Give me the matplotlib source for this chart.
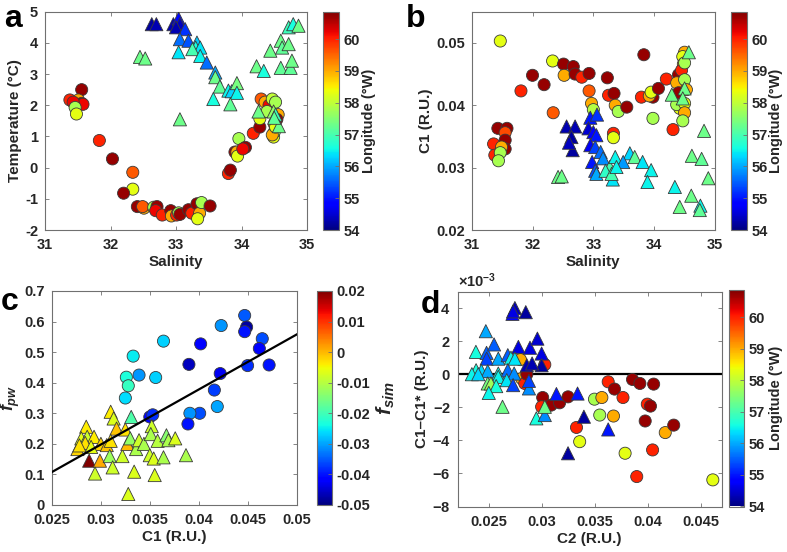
import numpy as np
import matplotlib
matplotlib.use("Agg")
import matplotlib.pyplot as plt
from matplotlib.ticker import ScalarFormatter

plt.rcParams['font.family'] = ['Liberation Sans', 'DejaVu Sans']
plt.rcParams['font.weight'] = 'bold'
plt.rcParams['axes.unicode_minus'] = False
plt.rcParams['mathtext.fontset'] = 'custom'
plt.rcParams['mathtext.it'] = 'Liberation Sans:italic'
plt.rcParams['mathtext.rm'] = 'Liberation Sans'
plt.rcParams['mathtext.bf'] = 'Liberation Sans:bold'
plt.rcParams['mathtext.bfit'] = 'Liberation Sans:italic:bold'

# ---------------- Panel a data ----------------
a_circ_sal = [31.38, 31.56, 31.51, 31.56, 31.58, 31.43, 31.46, 31.48, 31.83, 32.03, 32.34, 32.34, 32.20,
              32.41, 32.51, 32.49, 32.66, 32.71, 32.69, 32.79, 32.92, 32.93, 33.01, 33.04, 33.06, 33.19,
              33.24, 33.32, 33.36, 33.33, 33.39, 33.52, 33.80, 33.83, 33.90, 33.93, 33.94, 33.96, 34.06,
              34.02, 34.18, 34.28, 34.28, 34.30, 34.36, 34.42, 34.47, 34.52, 34.39, 34.56, 34.54, 34.50,
              34.49, 34.50, 34.47, 34.52]
a_circ_temp = [2.17, 2.50, 2.17, 2.06, 2.03, 2.10, 1.93, 1.72, 0.87, 0.28, -0.15, -0.69, -0.82,
               -1.25, -1.30, -1.25, -1.27, -1.25, -1.38, -1.52, -1.38, -1.55, -1.52, -1.45, -1.50, -1.35,
               -1.46, -1.16, -1.46, -1.64, -1.12, -1.23, -0.19, -0.08, 0.50, 0.50, 0.37, 0.93, 0.65,
               0.60, 1.10, 1.30, 1.57, 2.20, 2.10, 2.00, 2.20, 2.10, 1.80, 1.70, 1.55, 1.40,
               0.98, 1.14, 1.05, 1.30]
a_circ_lon = [60.0, 60.7, 59.0, 60.7, 60.2, 60.2, 57.8, 58.3, 60.0, 60.7, 59.6, 58.3, 60.7,
              60.7, 59.0, 59.6, 57.8, 60.7, 60.2, 60.0, 60.7, 59.0, 60.0, 57.8, 60.7, 60.7,
              60.0, 60.7, 59.0, 58.3, 57.8, 60.7, 60.0, 60.7, 60.7, 59.0, 58.3, 57.8, 60.7,
              60.2, 60.0, 60.7, 58.3, 59.6, 59.0, 60.2, 58.0, 57.8, 57.8, 59.0, 60.7, 59.0,
              58.3, 57.8, 59.0, 58.3]

a_tri_sal = [32.63, 32.70, 32.96, 33.04, 33.06, 33.00, 33.14, 33.06, 33.19, 33.04, 33.32, 33.30, 33.37,
             33.25, 33.37, 33.47, 33.60, 33.60, 33.67, 33.80, 33.85, 33.93, 33.93, 33.83, 33.57, 32.45,
             32.53, 33.06, 34.23, 34.34, 34.44, 34.60, 34.62, 34.72, 34.60, 34.75, 34.77, 34.72, 34.79,
             34.87, 34.26, 34.49, 34.52, 34.57, 34.50]
a_tri_temp = [4.60, 4.60, 4.60, 4.78, 4.60, 4.50, 4.44, 4.12, 4.07, 3.70, 4.01, 3.85, 3.85,
              3.80, 3.58, 3.37, 3.05, 2.90, 2.60, 2.47, 2.45, 2.71, 2.40, 2.03, 2.20, 3.55,
              3.50, 1.55, 3.25, 3.10, 3.75, 4.07, 3.85, 3.96, 3.20, 3.20, 3.43, 4.50, 4.60,
              4.55, 1.80, 1.80, 1.70, 1.33, 1.60]
a_tri_lon = [54.2, 54.3, 54.3, 54.9, 54.4, 54.3, 55.2, 55.6, 55.4, 56.4, 56.2, 56.6, 56.4,
             57.0, 56.5, 55.6, 56.0, 57.3, 57.2, 56.5, 56.3, 57.4, 56.5, 57.2, 56.6, 57.3,
             57.3, 57.3, 57.3, 56.6, 57.3, 57.3, 57.2, 57.3, 57.2, 57.2, 57.3, 56.9, 56.6,
             57.3, 57.3, 57.6, 56.9, 57.3, 57.2]

# ---------------- Panel b data ----------------
b_circ_sal = [31.47, 31.43, 31.58, 31.55, 31.36, 31.38, 31.55, 31.55, 31.49, 31.47, 31.44, 31.81, 32.00,
              32.19, 32.34, 32.33, 32.51, 32.67, 32.52, 32.70, 32.81, 32.93, 32.93, 32.97, 33.00, 33.23,
              33.25, 33.34, 33.36, 33.41, 33.55, 33.33, 33.33, 33.83, 33.79, 33.98, 33.92, 33.95, 34.07,
              33.98, 34.20, 34.31, 34.40, 34.37, 34.50, 34.47, 34.48, 34.45, 34.50, 34.50, 34.53, 34.42,
              34.37, 34.50, 34.50, 34.47, 34.40]
b_circ_c1 = [0.0503, 0.0363, 0.0363, 0.0356, 0.0338, 0.0320, 0.0344, 0.0330, 0.0333, 0.0324, 0.0311, 0.0423, 0.0448,
             0.0433, 0.0388, 0.0471, 0.0466, 0.0462, 0.0448, 0.0450, 0.0445, 0.0451, 0.0423, 0.0403, 0.0393, 0.0444,
             0.0416, 0.0419, 0.0400, 0.0390, 0.0397, 0.0355, 0.0348, 0.0481, 0.0413, 0.0413, 0.0415, 0.0421, 0.0427,
             0.0379, 0.0442, 0.0361, 0.0449, 0.0436, 0.0485, 0.0478, 0.0466, 0.0456, 0.0468, 0.0441, 0.0425, 0.0395,
             0.0401, 0.0403, 0.0388, 0.0375, 0.0420]
b_circ_lon = [58.3, 60.7, 60.7, 59.7, 60.0, 60.0, 60.7, 60.7, 59.0, 57.8, 57.8, 60.0, 60.7,
              60.7, 59.6, 58.3, 60.7, 60.7, 59.0, 60.7, 60.0, 60.7, 59.6, 59.0, 57.9, 60.7,
              60.0, 60.7, 59.0, 57.8, 60.7, 60.0, 58.3, 60.7, 60.0, 60.7, 59.0, 58.3, 60.7,
              57.8, 60.0, 60.0, 60.7, 59.0, 59.0, 58.3, 59.0, 60.0, 57.8, 57.8, 59.0, 58.3,
              57.8, 58.3, 59.0, 57.8, 60.7]

b_tri_sal = [32.56, 32.70, 32.64, 32.66, 32.60, 32.95, 33.06, 32.92, 33.00, 33.05, 32.95, 33.03, 32.98,
             33.12, 33.16, 33.03, 33.05, 33.27, 33.20, 33.36, 33.60, 33.68, 33.49, 33.32, 33.30, 33.38,
             33.81, 33.95, 33.89, 32.42, 32.48, 34.34, 34.42, 34.61, 34.76, 34.75, 34.82, 34.62, 34.78,
             34.89, 34.29, 34.50, 34.47, 34.57]
b_tri_c1 = [0.0366, 0.0366, 0.0349, 0.0328, 0.0340, 0.0380, 0.0385, 0.0363, 0.0357, 0.0352, 0.0336, 0.0333, 0.0309,
            0.0325, 0.0315, 0.0295, 0.0290, 0.0301, 0.0295, 0.0317, 0.0323, 0.0317, 0.0309, 0.0281, 0.0290, 0.0301,
            0.0309, 0.0296, 0.0277, 0.0285, 0.0286, 0.0269, 0.0237, 0.0255, 0.0239, 0.0232, 0.0359, 0.0319, 0.0314,
            0.0283, 0.0417, 0.0427, 0.0411, 0.0485]
b_tri_lon = [54.3, 54.3, 54.2, 54.2, 54.4, 55.0, 55.2, 54.5, 54.8, 55.0, 54.7, 55.3, 55.0,
             55.6, 55.8, 55.4, 56.0, 57.0, 56.8, 56.5, 56.3, 57.2, 55.9, 56.4, 57.0, 56.5,
             56.4, 56.5, 56.5, 57.3, 57.3, 56.5, 57.3, 57.3, 56.5, 57.2, 57.3, 57.3, 57.2,
             57.3, 57.3, 57.3, 57.3, 57.3]

# ---------------- Panel c data ----------------
c_circ_c1 = [0.0447, 0.0449, 0.0447, 0.0423, 0.0402, 0.0390, 0.0422, 0.0416, 0.0419, 0.0465, 0.0462, 0.0450,
             0.0472, 0.0401, 0.0391, 0.0389, 0.0350, 0.0353, 0.0364, 0.0333, 0.0339, 0.0356, 0.0326, 0.0328, 0.0325]
c_circ_fpw = [0.620, 0.582, 0.567, 0.587, 0.527, 0.460, 0.430, 0.376, 0.322, 0.544, 0.512, 0.456,
              0.458, 0.300, 0.300, 0.265, 0.288, 0.295, 0.536, 0.487, 0.425, 0.417, 0.418, 0.390, 0.350]
c_circ_fsim = [-0.035, -0.048, -0.040, -0.031, -0.042, -0.046, -0.043, -0.037, -0.030, -0.036, -0.041, -0.038,
               -0.040, -0.036, -0.031, -0.040, -0.041, -0.038, -0.027, -0.025, -0.031, -0.027, -0.023, -0.021, -0.026]

c_tri_c1 = [0.0285, 0.0276, 0.0280, 0.0286, 0.0293, 0.0288, 0.0299, 0.0294, 0.0300, 0.0306, 0.0310, 0.0313,
            0.0316, 0.0309, 0.0312, 0.0322, 0.0325, 0.0327, 0.0331, 0.0330, 0.0328, 0.0334, 0.0336, 0.0339,
            0.0344, 0.0352, 0.0351, 0.0350, 0.0354, 0.0355, 0.0358, 0.0367, 0.0369, 0.0376, 0.0364, 0.0387,
            0.0284, 0.0290, 0.0310, 0.0278]
c_tri_fpw = [0.256, 0.183, 0.218, 0.223, 0.223, 0.145, 0.145, 0.103, 0.200, 0.196, 0.305, 0.283,
             0.250, 0.160, 0.123, 0.160, 0.247, 0.200, 0.288, 0.218, 0.036, 0.109, 0.183, 0.212,
             0.200, 0.258, 0.232, 0.163, 0.152, 0.098, 0.210, 0.228, 0.212, 0.218, 0.156, 0.163,
             0.203, 0.190, 0.210, 0.195]
c_tri_fsim = [-0.004, -0.002, -0.006, -0.008, -0.004, 0.020, 0.001, -0.008, -0.002, -0.001, -0.004, -0.007,
              -0.001, -0.012, -0.008, -0.008, -0.003, 0.000, -0.019, -0.013, -0.007, -0.007, -0.011, -0.008,
              -0.011, -0.008, -0.011, -0.008, -0.007, -0.007, -0.010, -0.014, -0.011, -0.007, -0.011, -0.011,
              -0.003, -0.006, -0.003, -0.003]
c_fit_slope = 17.98
c_fit_intercept = -0.3415

# ---------------- Panel d data ----------------
d_tri_c2 = [0.02743, 0.02720, 0.02726, 0.02846, 0.02468, 0.02374, 0.02475, 0.02476, 0.02546, 0.02586,
            0.02676, 0.02706, 0.02776, 0.02886, 0.02956, 0.02996, 0.02996, 0.02856, 0.02906, 0.02743,
            0.02376, 0.02426, 0.02486, 0.02586, 0.02676, 0.02736, 0.02586, 0.02486, 0.02516, 0.02566,
            0.02496, 0.02626, 0.02666, 0.02726, 0.02876, 0.02876, 0.02946, 0.03026, 0.03026, 0.03136,
            0.03336, 0.03396, 0.03246, 0.03626, 0.02336, 0.02396]
d_tri_diff = np.array([4.0, 3.65, 3.8, 3.75, 2.6, 1.35, 1.29, 0.94, 1.8, 0.94,
                       1.15, 1.0, 1.65, 1.6, 2.15, 1.25, 0.54, 0.54, 0.65, 0.94,
                       0.24, 0.2, 0.18, 0.04, 0.24, 0.04, -0.16, -0.56, -0.56, -0.72,
                       -1.13, -1.97, -0.36, -0.66, -0.86, -0.4, -2.67, -2.47, -1.97, -1.2,
                       -1.17, -2.57, -4.78, -3.34, 0.0, 0.0]) * 1e-3
d_tri_lon = [54.3, 54.8, 54.6, 54.2, 56.0, 56.6, 55.5, 55.3, 55.5, 56.0,
             55.5, 56.5, 54.6, 54.6, 54.5, 54.6, 54.2, 54.3, 54.3, 56.4,
             56.6, 56.3, 56.0, 56.5, 55.6, 55.8, 56.5, 57.4, 57.7, 56.6,
             56.5, 57.3, 56.4, 55.3, 55.8, 55.3, 56.6, 55.8, 57.3, 55.0,
             55.0, 54.2, 54.2, 55.0, 56.5, 56.3]

d_circ_c2 = [0.02796, 0.03026, 0.02806, 0.02836, 0.02856, 0.03006, 0.02996, 0.03086, 0.03166, 0.03246,
             0.03326, 0.03356, 0.03496, 0.03566, 0.03546, 0.03676, 0.03626, 0.03686, 0.03766, 0.03786,
             0.03856, 0.03926, 0.04056, 0.03996, 0.04026, 0.03976, 0.04046, 0.03896, 0.04166, 0.04246, 0.04616]
d_circ_diff = np.array([0.88, 0.58, -0.26, -0.56, 0.0, -1.41, -1.97, -1.87, -1.73, -1.37,
                        -3.22, -4.08, -1.51, -1.41, -2.47, -2.53, -0.46, -0.90, -1.41, -4.78,
                        -0.32, -0.56, -0.60, -1.81, -1.93, -2.83, -4.58, -6.19, -3.53, -3.08, -6.39]) * 1e-3
d_circ_lon = [59.0, 60.0, 59.0, 60.0, 60.7, 60.7, 60.0, 60.7, 60.7, 60.7,
              60.0, 58.3, 57.8, 59.0, 57.8, 59.0, 60.0, 60.7, 60.0, 58.3,
              60.7, 60.7, 60.7, 60.0, 60.7, 60.7, 60.0, 60.0, 59.0, 60.7, 58.3]

lon_ticks = [54, 55, 56, 57, 58, 59, 60]
fsim_ticks = [-0.05, -0.04, -0.03, -0.02, -0.01, 0, 0.01, 0.02]
fsim_ticklabels = ['-0.05', '-0.04', '-0.03', '-0.02', '-0.01', '0', '0.01', '0.02']

# ---------------- Plot ----------------
W, H = 787, 552
fig = plt.figure(figsize=(W / 100, H / 100), dpi=100)

def rect(l, t, r, b):
    return [l / W, 1 - b / H, (r - l) / W, (b - t) / H]

TICKC = '#262626'
SPINEC = '#707070'
EDGE = '#3a3a3a'
S_C, S_T = 76, 90
LON_MIN, LON_MAX = 54, 60.86

def style(ax):
    for sp in ax.spines.values():
        sp.set_color(SPINEC)
        sp.set_linewidth(0.8)
    ax.tick_params(direction='in', length=3, width=0.6, color=SPINEC, labelsize=10.5,
                   labelcolor=TICKC, top=True, right=True)
    ax.tick_params(axis='x', pad=6)
    ax.tick_params(axis='y', pad=5)
    for lab in ax.get_xticklabels() + ax.get_yticklabels():
        lab.set_fontweight('bold')

def cbar(sc, cax, ticks, label, labels=None, lsize=10.5, lpad=2):
    cb = fig.colorbar(sc, cax=cax, ticks=ticks)
    if labels is not None:
        cb.ax.set_yticklabels(labels)
    cb.outline.set_edgecolor(SPINEC)
    cb.outline.set_linewidth(0.8)
    cb.ax.tick_params(direction='in', length=3, width=0.6, color=SPINEC, labelsize=10.5,
                      labelcolor=TICKC, pad=3)
    for lab in cb.ax.get_yticklabels():
        lab.set_fontweight('bold')
    cb.set_label(label, fontsize=lsize, fontweight='bold', color=TICKC, labelpad=lpad)
    return cb

# Panel a
ax = fig.add_axes(rect(45, 11.7, 307, 230))
ax.scatter(a_circ_sal, a_circ_temp, c=a_circ_lon, cmap='jet', vmin=LON_MIN, vmax=LON_MAX,
           s=S_C, marker='o', edgecolors=EDGE, linewidths=0.6, zorder=3)
sc = ax.scatter(a_tri_sal, a_tri_temp, c=a_tri_lon, cmap='jet', vmin=LON_MIN, vmax=LON_MAX,
                s=S_T, marker='^', edgecolors=EDGE, linewidths=0.6, zorder=3)
ax.set_xlim(31, 35)
ax.set_ylim(-2, 5)
ax.set_xticks([31, 32, 33, 34, 35])
ax.set_yticks(range(-2, 6))
ax.set_xlabel('Salinity', fontsize=11, fontweight='bold', color=TICKC, labelpad=2)
ax.set_ylabel('Temperature (°C)', fontsize=11, fontweight='bold', color=TICKC, labelpad=2)
style(ax)
cax = fig.add_axes(rect(323, 11.7, 339, 230))
cbar(sc, cax, lon_ticks, 'Longitude (°W)')

# Panel b
ax = fig.add_axes(rect(471.7, 11.7, 715, 230))
ax.scatter(b_circ_sal, b_circ_c1, c=b_circ_lon, cmap='jet', vmin=LON_MIN, vmax=LON_MAX,
           s=S_C, marker='o', edgecolors=EDGE, linewidths=0.6, zorder=3)
sc = ax.scatter(b_tri_sal, b_tri_c1, c=b_tri_lon, cmap='jet', vmin=LON_MIN, vmax=LON_MAX,
                s=S_T, marker='^', edgecolors=EDGE, linewidths=0.6, zorder=3)
ax.set_xlim(31, 35)
ax.set_ylim(0.02, 0.055)
ax.set_xticks([31, 32, 33, 34, 35])
ax.set_yticks([0.02, 0.03, 0.04, 0.05])
ax.set_yticklabels(['0.02', '0.03', '0.04', '0.05'])
ax.set_xlabel('Salinity', fontsize=11, fontweight='bold', color=TICKC, labelpad=2)
ax.set_ylabel('C1 (R.U.)', fontsize=11, fontweight='bold', color=TICKC, labelpad=2)
style(ax)
cax = fig.add_axes(rect(731, 11.7, 747, 230))
cbar(sc, cax, lon_ticks, 'Longitude (°W)', lpad=1)

# Panel c
ax = fig.add_axes(rect(52, 291, 296.5, 505))
ax.scatter(c_circ_c1, c_circ_fpw, c=c_circ_fsim, cmap='jet', vmin=-0.05, vmax=0.02,
           s=S_C, marker='o', edgecolors=EDGE, linewidths=0.6, zorder=3)
sc = ax.scatter(c_tri_c1, c_tri_fpw, c=c_tri_fsim, cmap='jet', vmin=-0.05, vmax=0.02,
                s=S_T, marker='^', edgecolors=EDGE, linewidths=0.6, zorder=3)
xl = np.array([0.025, 0.05])
ax.plot(xl, c_fit_intercept + c_fit_slope * xl, color='black', lw=1.6, zorder=4)
ax.set_xlim(0.025, 0.05)
ax.set_ylim(0, 0.7)
ax.set_xticks([0.025, 0.03, 0.035, 0.04, 0.045, 0.05])
ax.set_xticklabels(['0.025', '0.03', '0.035', '0.04', '0.045', '0.05'])
ax.set_yticks([0, 0.1, 0.2, 0.3, 0.4, 0.5, 0.6, 0.7])
ax.set_yticklabels(['0', '0.1', '0.2', '0.3', '0.4', '0.5', '0.6', '0.7'])
ax.set_xlabel('C1 (R.U.)', fontsize=11, fontweight='bold', color=TICKC, labelpad=2)
ax.set_ylabel(r'$\mathit{f}_{\mathit{pw}}$', fontsize=13, color=TICKC, labelpad=2)
style(ax)
cax = fig.add_axes(rect(317, 291, 332, 505))
cbar(sc, cax, fsim_ticks, r'$\mathbfit{f}_{\mathbfit{sim}}$', labels=fsim_ticklabels, lsize=15, lpad=3)

# Panel d
ax = fig.add_axes(rect(457.5, 291.5, 721.7, 506.5))
ax.axhline(0, color='black', lw=1.6, zorder=2)
ax.scatter(d_circ_c2, d_circ_diff, c=d_circ_lon, cmap='jet', vmin=LON_MIN, vmax=LON_MAX,
           s=S_C, marker='o', edgecolors=EDGE, linewidths=0.6, zorder=3)
sc = ax.scatter(d_tri_c2, d_tri_diff, c=d_tri_lon, cmap='jet', vmin=LON_MIN, vmax=LON_MAX,
                s=S_T, marker='^', edgecolors=EDGE, linewidths=0.6, zorder=3)
ax.set_xlim(0.022, 0.047)
ax.set_ylim(-8e-3, 5e-3)
ax.set_xticks([0.025, 0.03, 0.035, 0.04, 0.045])
ax.set_xticklabels(['0.025', '0.03', '0.035', '0.04', '0.045'])
ax.set_yticks(np.arange(-8, 5, 2) * 1e-3)
fmt = ScalarFormatter(useMathText=True)
fmt.set_powerlimits((0, 0))
ax.yaxis.set_major_formatter(fmt)
ax.yaxis.get_offset_text().set_fontsize(10.5)
ax.yaxis.get_offset_text().set_color(TICKC)
ax.set_xlabel('C2 (R.U.)', fontsize=11, fontweight='bold', color=TICKC, labelpad=2)
ax.set_ylabel('C1–C1* (R.U.)', fontsize=11, fontweight='bold', color=TICKC, labelpad=2)
style(ax)
cax = fig.add_axes(rect(729, 290, 744, 506.5))
cbar(sc, cax, lon_ticks, 'Longitude (°W)', lpad=3)

# Panel letters
for txt, x, y in [('a', 4, 27), ('b', 406, 27), ('c', 1, 310), ('d', 421, 313)]:
    fig.text(x / W, 1 - y / H, txt, fontsize=23, fontweight='bold', color='black',
             ha='left', va='baseline')

fig.savefig('out.png', dpi=100)
